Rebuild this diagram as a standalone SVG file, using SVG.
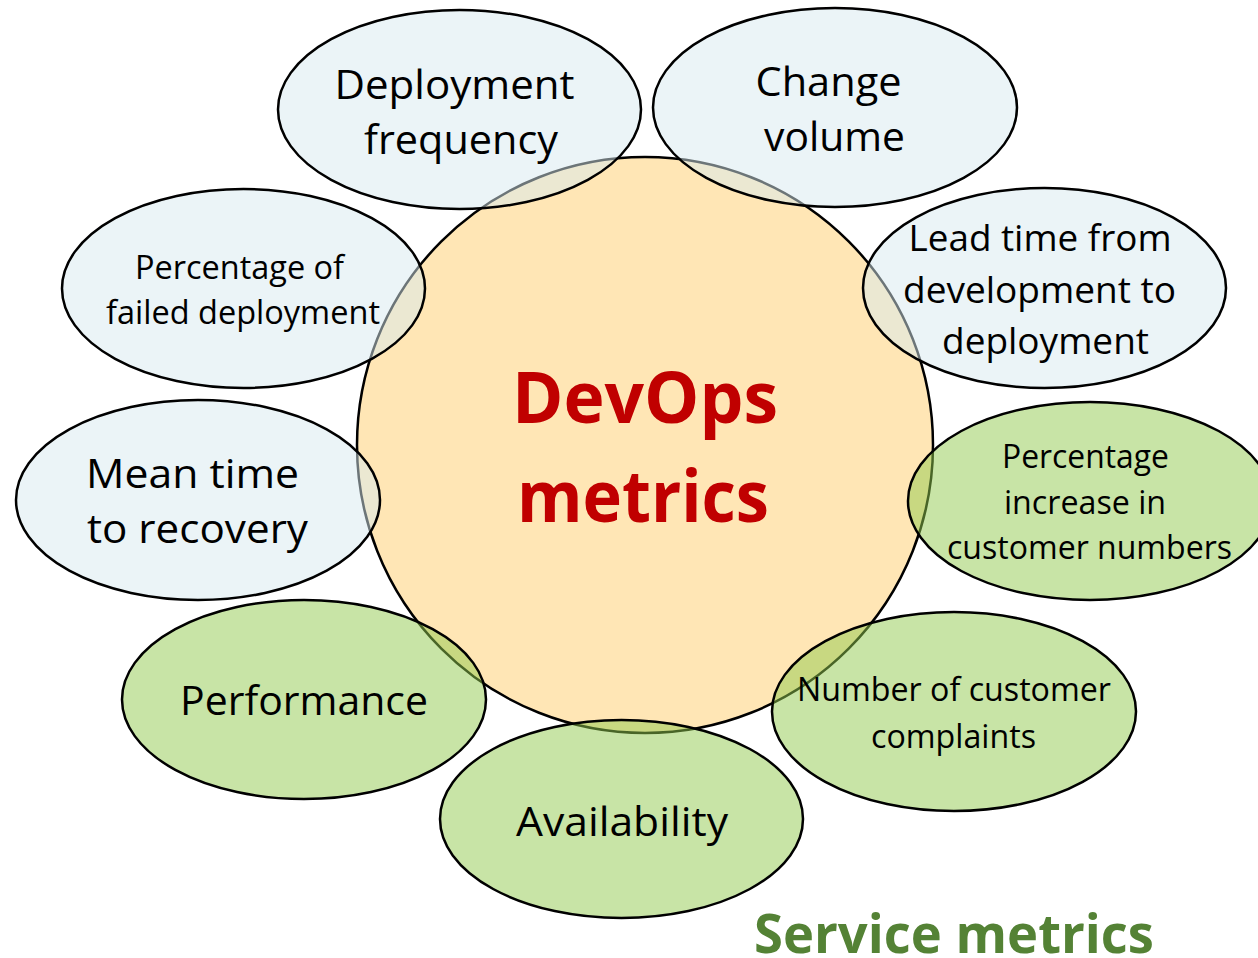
<svg xmlns="http://www.w3.org/2000/svg" width="1258" height="958" viewBox="0 0 1258 958">
<style>
.bg{fill:#ffffff}
.core{fill:#FFE6B5;stroke:#000;stroke-width:2.5}
.blue{fill:rgb(215,233,239);fill-opacity:0.5;stroke:#000;stroke-width:2.5}
.green{fill:rgb(145,201,77);fill-opacity:0.5;stroke:#000;stroke-width:2.5}
.t{font-family:"Open Sans","Noto Sans","Liberation Sans",sans-serif;fill:#000;text-anchor:middle}
.big{font-size:41px}
.mid{font-size:36px}
.sm{font-size:32px}
.red{font-family:"Open Sans","Noto Sans","Liberation Sans",sans-serif;font-weight:bold;fill:#C00000;font-size:72px;text-anchor:middle}
.svc{font-family:"Open Sans","Noto Sans","Liberation Sans",sans-serif;font-weight:bold;fill:#548235;font-size:54px;text-anchor:middle}
</style>
<rect class="bg" x="0" y="0" width="1258" height="958"/>
<g id="devops">
<ellipse class="core" cx="645" cy="445" rx="288" ry="288"/>
<text class="red" x="645" y="423" textLength="266" lengthAdjust="spacingAndGlyphs">DevOps</text>
<text class="red" x="643" y="522" textLength="252" lengthAdjust="spacingAndGlyphs">metrics</text>
</g>
<g id="connectors"></g>
<g id="deployment-frequency">
<ellipse class="blue" cx="459.5" cy="109.5" rx="181.5" ry="99.5"/>
<text class="t big" x="454.5" y="99" textLength="240" lengthAdjust="spacingAndGlyphs">Deployment</text>
<text class="t big" x="461" y="154" textLength="194" lengthAdjust="spacingAndGlyphs">frequency</text>
</g>
<g id="change-volume">
<ellipse class="blue" cx="835" cy="107.5" rx="182" ry="99.5"/>
<text class="t big" x="828.5" y="96" textLength="146" lengthAdjust="spacingAndGlyphs">Change</text>
<text class="t big" x="834.5" y="151" textLength="141" lengthAdjust="spacingAndGlyphs">volume</text>
</g>
<g id="lead-time">
<ellipse class="blue" cx="1044.5" cy="288" rx="181.5" ry="100"/>
<text class="t mid" x="1040" y="251" textLength="263" lengthAdjust="spacingAndGlyphs">Lead time from</text>
<text class="t mid" x="1039.5" y="303" textLength="273" lengthAdjust="spacingAndGlyphs">development to</text>
<text class="t mid" x="1045.5" y="354" textLength="207" lengthAdjust="spacingAndGlyphs">deployment</text>
</g>
<g id="percentage-increase">
<ellipse class="green" cx="1090" cy="501" rx="182" ry="99"/>
<text class="t sm" x="1085.5" y="468" textLength="167" lengthAdjust="spacingAndGlyphs">Percentage</text>
<text class="t sm" x="1085" y="514" textLength="162" lengthAdjust="spacingAndGlyphs">increase in</text>
<text class="t sm" x="1089.5" y="559" textLength="285" lengthAdjust="spacingAndGlyphs">customer numbers</text>
</g>
<g id="customer-complaints">
<ellipse class="green" cx="954" cy="711.5" rx="182" ry="99.5"/>
<text class="t sm" x="954" y="701" textLength="314" lengthAdjust="spacingAndGlyphs">Number of customer</text>
<text class="t sm" x="953.5" y="748" textLength="165" lengthAdjust="spacingAndGlyphs">complaints</text>
</g>
<g id="availability">
<ellipse class="green" cx="621.5" cy="819" rx="181.5" ry="99"/>
<text class="t big" x="622" y="836" textLength="212" lengthAdjust="spacingAndGlyphs">Availability</text>
</g>
<g id="performance">
<ellipse class="green" cx="304" cy="699.5" rx="182" ry="99.5"/>
<text class="t big" x="304" y="715" textLength="248" lengthAdjust="spacingAndGlyphs">Performance</text>
</g>
<g id="mean-time-to-recovery">
<ellipse class="blue" cx="198" cy="500" rx="182" ry="100"/>
<text class="t big" x="192.5" y="488" textLength="213" lengthAdjust="spacingAndGlyphs">Mean time</text>
<text class="t big" x="197.5" y="543" textLength="221" lengthAdjust="spacingAndGlyphs">to recovery</text>
</g>
<g id="failed-deployment">
<ellipse class="blue" cx="243.5" cy="288.5" rx="181.5" ry="99.5"/>
<text class="t sm" x="239.5" y="279" textLength="209" lengthAdjust="spacingAndGlyphs">Percentage of</text>
<text class="t sm" x="243" y="324" textLength="274" lengthAdjust="spacingAndGlyphs">failed deployment</text>
</g>
<g id="service-metrics">
<text class="svc" x="954" y="953" textLength="400" lengthAdjust="spacingAndGlyphs">Service metrics</text>
</g>
</svg>
